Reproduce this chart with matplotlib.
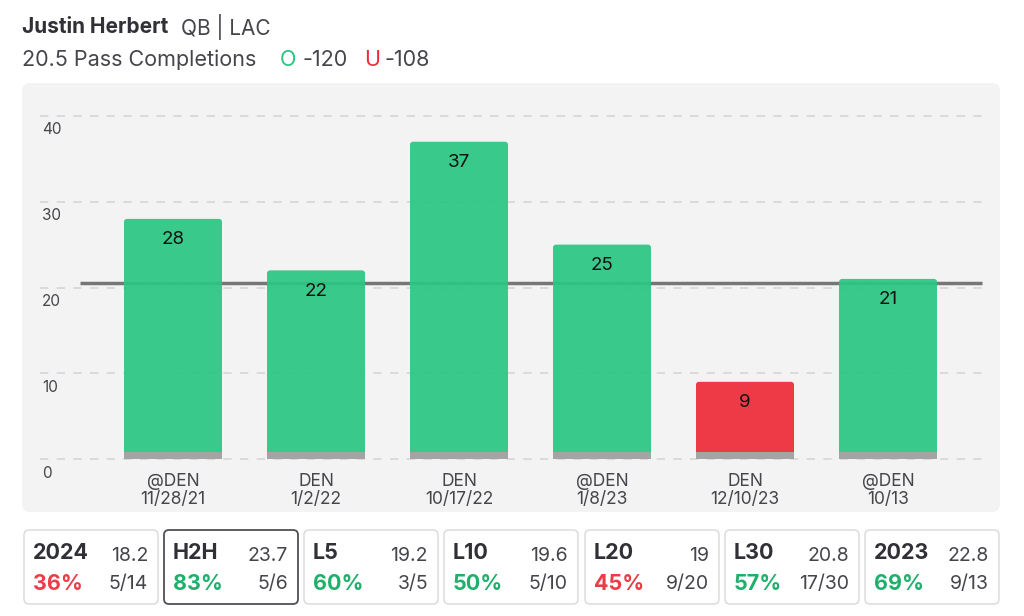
import matplotlib
matplotlib.use("Agg")
import matplotlib.pyplot as plt
from matplotlib.patches import FancyBboxPatch
import matplotlib.transforms as mtransforms

plt.rcParams['font.family'] = ['Inter', 'DejaVu Sans']

# ---- data ----
opponents = ["@DEN", "DEN", "DEN", "@DEN", "DEN", "@DEN"]
dates = ["11/28/21", "1/2/22", "10/17/22", "1/8/23", "12/10/23", "10/13"]
completions = [28, 22, 37, 25, 9, 21]
line_value = 20.5
y_ticks = [0, 10, 20, 30, 40]

card_labels = ["2024", "H2H", "L5", "L10", "L20", "L30", "2023"]
card_avgs = ["18.2", "23.7", "19.2", "19.6", "19", "20.8", "22.8"]
card_pcts = ["36%", "83%", "60%", "50%", "45%", "57%", "69%"]
card_fracs = ["5/14", "5/6", "3/5", "5/10", "9/20", "17/30", "9/13"]

GREEN = "#2bc682"
GREEN_TXT = "#1fb06c"
RED = "#ee2c39"
RED_TXT = "#ea3d48"
DARK = "#303036"
MID = "#45454b"

W, H = 1024, 616
fig = plt.figure(figsize=(W / 100, H / 100), dpi=100)
fig.patch.set_facecolor("white")

# background axes in pixel coordinates
bg = fig.add_axes([0, 0, 1, 1])
bg.set_xlim(0, W)
bg.set_ylim(H, 0)
bg.axis("off")

panel = FancyBboxPatch((22, 83), 978, 429, boxstyle="round,pad=0,rounding_size=8",
                       facecolor="#f3f3f3", edgecolor="none")
bg.add_patch(panel)

# title
bg.text(22, 27, "Justin Herbert", fontsize=15, fontweight="bold", color=DARK, va="center", ha="left")
bg.text(181, 27, "QB | LAC", fontsize=15, color=MID, va="center", ha="left")
bg.text(22, 60, "20.5 Pass Completions", fontsize=15.5, color=MID, va="center", ha="left")
bg.text(280, 60, "O", fontsize=15.5, color=GREEN, va="center", ha="left")
bg.text(302, 60, "-120", fontsize=15.5, color=MID, va="center", ha="left")
bg.text(364, 60, "U", fontsize=15.5, color=RED, va="center", ha="left")
bg.text(384, 60, "-108", fontsize=15.5, color=MID, va="center", ha="left")

# cards
card_x = [24, 164, 304, 444, 585, 725, 865]
card_w = 134
for i, x0 in enumerate(card_x):
    ec = "#505055" if card_labels[i] == "H2H" else "#d9d9d9"
    lw = 1.3 if card_labels[i] == "H2H" else 1.0
    bg.add_patch(FancyBboxPatch((x0, 530), card_w, 74, boxstyle="round,pad=0,rounding_size=5",
                                facecolor="white", edgecolor=ec, linewidth=lw))
    pct_val = int(card_pcts[i].rstrip("%"))
    pc = GREEN_TXT if pct_val >= 50 else RED_TXT
    bg.text(x0 + 9, 553, card_labels[i], fontsize=15.5, fontweight="bold", color=DARK, va="center", ha="left")
    bg.text(x0 + card_w - 10, 556, card_avgs[i], fontsize=14, color=MID, va="center", ha="right")
    bg.text(x0 + 9, 584, card_pcts[i], fontsize=15.5, fontweight="bold", color=pc, va="center", ha="left")
    bg.text(x0 + card_w - 10, 584, card_fracs[i], fontsize=14, color=MID, va="center", ha="right")

# chart axes mapped onto pixels
x_left_px, x_right_px = 40, 985
y_top_px, y_bot_px = 100, 470
ax = fig.add_axes([x_left_px / W, 1 - y_bot_px / H, (x_right_px - x_left_px) / W, (y_bot_px - y_top_px) / H])
ax.patch.set_alpha(0)
px_per_idx = 143.0
x0_px = 173.0
ax.set_xlim((x_left_px - x0_px) / px_per_idx, (x_right_px - x0_px) / px_per_idx)
u_per_px = 40.0 / (459 - 116)
ax.set_ylim(-(y_bot_px - 459) * u_per_px, 40 + (116 - y_top_px) * u_per_px)
for s in ax.spines.values():
    s.set_visible(False)
ax.set_xticks([])
ax.set_yticks([])

for v in y_ticks:
    ax.axhline(v, color="#d6d6d6", lw=1.2, ls=(0, (5, 5)), zorder=0)
    ax.text(0.002, v - 14 * u_per_px, str(v), transform=mtransforms.blended_transform_factory(ax.transAxes, ax.transData),
            fontsize=11, color=MID, va="center", ha="left")

line_x0 = (80 - x0_px) / px_per_idx
line_x1 = (982 - x0_px) / px_per_idx
ax.plot([line_x0, line_x1], [line_value, line_value], color="#767676", lw=2.5, zorder=1, solid_capstyle="butt")

xs = list(range(len(completions)))
colors = [GREEN if c > line_value else RED for c in completions]
bw = 98 / px_per_idx
aspect = u_per_px * px_per_idx
for x, c, col in zip(xs, completions, colors):
    p = FancyBboxPatch((x - bw / 2, 0), bw, c, boxstyle="round,pad=0,rounding_size=%f" % (3 / px_per_idx),
                       mutation_aspect=aspect, facecolor=col, edgecolor="none",
                       alpha=0.93, zorder=2)
    ax.add_patch(p)
ax.bar(xs, [0.8] * len(xs), width=bw, color="#a4a4a4", zorder=3)

for x, c in zip(xs, completions):
    ax.text(x, c - 21 * u_per_px, str(c), fontsize=13.5, color="#111111", ha="center", va="center", zorder=4)
    ax.text(x, -(481 - 459) * u_per_px, opponents[x], fontsize=12.5, color=MID, ha="center", va="center")
    ax.text(x, -(499 - 459) * u_per_px, dates[x], fontsize=12.5, color=MID, ha="center", va="center",
            clip_on=False)

fig.savefig("out.png", dpi=100, facecolor="white")
